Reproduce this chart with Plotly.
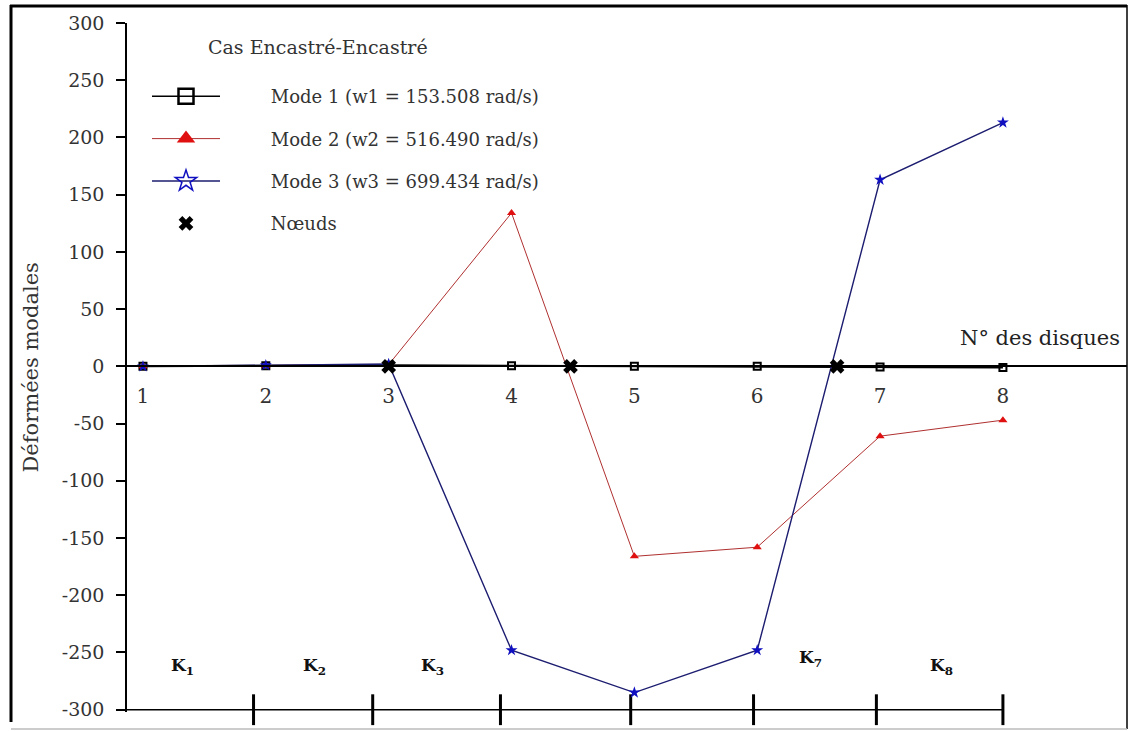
import plotly.graph_objects as go

# ---- data ----
disques = [1, 2, 3, 4, 5, 6, 7, 8]
mode1 = [0, 0.5, 1, 0.5, 0, 0, -0.5, -1]
mode2 = [0, 0.8, 1.5, 134, -166, -158, -61, -47]
mode3 = [0, 1, 2, -248, -285, -248, 163, 213]
noeuds_x = [3.0, 4.48, 6.65]
noeuds_y = [0, 0, 0]
tick_labels = ["1", "2", "3", "4", "5", "6", "7", "8"]
y_ticks = [300, 250, 200, 150, 100, 50, 0, -50, -100, -150, -200, -250, -300]
elem_bounds = [1.9, 2.87, 3.91, 4.97, 5.97, 6.97, 8.0]
k_labels = ["K<sub>1</sub>", "K<sub>2</sub>", "K<sub>3</sub>", "K<sub>7</sub>", "K<sub>8</sub>"]
k_x = [1.32, 2.40, 3.36, 6.43, 7.50]
k_y = [-262, -262, -262, -255, -262]
legend_title = "Cas Encastré-Encastré"
legend_names = ["Mode 1 (w1 = 153.508 rad/s)", "Mode 2 (w2 = 516.490 rad/s)",
                "Mode 3 (w3 = 699.434 rad/s)", "Nœuds"]

SERIF = "DejaVu Serif"
X0, X1 = 0.87, 9.01
Y0, Y1 = -302, 300
PAD = "\u00a0" * 8

fig = go.Figure()

# baseline with element boundary ticks
fig.add_trace(go.Scatter(x=[X0, elem_bounds[-1]], y=[-300, -300], mode="lines",
                         line=dict(color="black", width=1.5), showlegend=False, hoverinfo="skip"))
fig.add_trace(go.Scatter(x=elem_bounds, y=[-300] * len(elem_bounds), mode="markers",
                         marker=dict(symbol="line-ns", size=22, line=dict(color="black", width=3)),
                         cliponaxis=False, showlegend=False, hoverinfo="skip"))

# data traces
fig.add_trace(go.Scatter(x=disques, y=mode1, mode="lines+markers", showlegend=False,
                         line=dict(color="black", width=2),
                         marker=dict(symbol="square-open", size=7, color="black", line=dict(width=2))))
fig.add_trace(go.Scatter(x=disques, y=mode2, mode="lines+markers", showlegend=False,
                         line=dict(color="#b03030", width=1),
                         marker=dict(symbol="triangle-up", size=8, color="#e01010")))
fig.add_trace(go.Scatter(x=disques, y=mode3, mode="lines+markers", showlegend=False,
                         line=dict(color="#1c1c70", width=1.4),
                         marker=dict(symbol="star", size=9, color="#1010c0")))
fig.add_trace(go.Scatter(x=noeuds_x, y=noeuds_y, mode="markers", showlegend=False,
                         cliponaxis=False,
                         marker=dict(symbol="x", size=13, color="black", line=dict(width=0))))

# legend-only traces
fig.add_trace(go.Scatter(x=[None], y=[None], mode="lines+markers", name=PAD + legend_names[0],
                         legendgroup="a", line=dict(color="black", width=1.5),
                         marker=dict(symbol="square-open", size=15, color="black", line=dict(width=2.5))))
fig.add_trace(go.Scatter(x=[None], y=[None], mode="lines+markers", name=PAD + legend_names[1],
                         legendgroup="b", line=dict(color="#b03030", width=1),
                         marker=dict(symbol="triangle-up", size=17, color="#e01010")))
fig.add_trace(go.Scatter(x=[None], y=[None], mode="lines+markers", name=PAD + legend_names[2],
                         legendgroup="c", line=dict(color="#1c1c70", width=1.5),
                         marker=dict(symbol="star-open", size=16, color="#1010c0", line=dict(width=1.5))))
fig.add_trace(go.Scatter(x=[None], y=[None], mode="markers", name=PAD + legend_names[3],
                         legendgroup="d",
                         marker=dict(symbol="x", size=13, color="black", line=dict(width=0))))


def px2paper_x(px):
    return (px - 127) / 1000.0


def py2paper_y(py):
    return (712 - py) / 689.0


annotations = [
    dict(x=8.30, y=25, xref="x", yref="y", text="N° des disques", showarrow=False,
         font=dict(family=SERIF, size=21, color="#222")),
    dict(x=px2paper_x(30), y=0.5, xref="paper", yref="paper", text="Déformées modales",
         textangle=-90, xanchor="center", yanchor="middle",
         showarrow=False, font=dict(family=SERIF, size=21, color="#333")),
    dict(x=px2paper_x(318), y=py2paper_y(47), xref="paper", yref="paper", text=legend_title,
         xanchor="center", yanchor="middle", showarrow=False,
         font=dict(family=SERIF, size=19, color="#333")),
]
for t, kx, ky in zip(k_labels, k_x, k_y):
    annotations.append(dict(x=kx, y=ky, xref="x", yref="y", text="<b>" + t + "</b>", showarrow=False,
                            font=dict(family=SERIF, size=17, color="#111")))

frame = dict(type="line", xref="paper", yref="paper", layer="above")
shapes = [
    dict(frame, x0=px2paper_x(11), x1=px2paper_x(11), y0=py2paper_y(5), y1=py2paper_y(722),
         line=dict(color="black", width=3)),
    dict(frame, x0=px2paper_x(10), x1=px2paper_x(1127), y0=py2paper_y(6), y1=py2paper_y(6),
         line=dict(color="black", width=3)),
    dict(frame, x0=px2paper_x(1127), x1=px2paper_x(1127), y0=py2paper_y(5), y1=py2paper_y(729),
         line=dict(color="black", width=1.5)),
    dict(frame, x0=px2paper_x(11), x1=px2paper_x(1127), y0=py2paper_y(729), y1=py2paper_y(729),
         line=dict(color="#bbbbbb", width=1.5)),
]

fig.update_layout(
    width=1129, height=731,
    margin=dict(l=127, r=2, t=23, b=19),
    paper_bgcolor="white", plot_bgcolor="white",
    font=dict(family=SERIF, color="#333"),
    xaxis=dict(range=[X0, X1], anchor="free", position=(0 - Y0) / (Y1 - Y0),
               tickmode="array", tickvals=disques, ticktext=tick_labels,
               showline=True, linecolor="black", linewidth=1.5,
               ticks="outside", ticklen=12, tickcolor="rgba(0,0,0,0)",
               showgrid=False, zeroline=False,
               tickfont=dict(family=SERIF, size=20, color="#333")),
    yaxis=dict(range=[Y0, Y1], tickmode="array", tickvals=y_ticks,
               ticktext=[str(v) for v in y_ticks],
               showline=True, linecolor="black", linewidth=1.5,
               ticks="outside", ticklen=9, tickwidth=1.5, tickcolor="black",
               ticklabelstandoff=8,
               showgrid=False, zeroline=False,
               tickfont=dict(family=SERIF, size=19, color="#333")),
    legend=dict(x=0.02, y=py2paper_y(78), xanchor="left", yanchor="top",
                bgcolor="rgba(0,0,0,0)", traceorder="grouped", tracegroupgap=16,
                itemwidth=68,
                font=dict(family=SERIF, size=18, color="#333")),
    annotations=annotations,
    shapes=shapes,
)

fig.write_html("out.html", config={"displayModeBar": False},
               post_script="document.body.style.margin='0';document.body.style.overflow='hidden';")
